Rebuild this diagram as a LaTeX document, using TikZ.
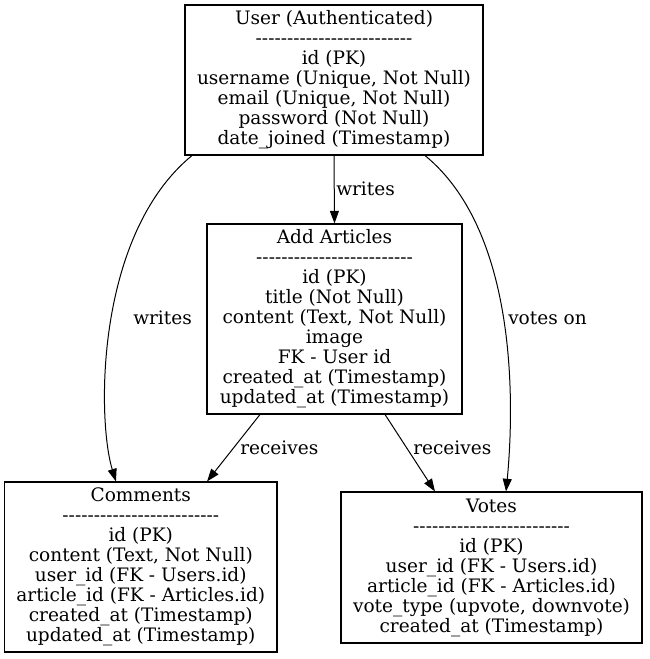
\documentclass[tikz,border=0pt]{standalone}
\usepackage{fontspec}
\usepackage{tikz}
\usetikzlibrary{arrows.meta}
\newfontfamily\dbfont{DejaVu Serif}
\newcommand{\dashline}{-------------------------}

\tikzset{
  entity/.style={draw, line width=0.8pt, inner sep=0pt, align=center,
    font=\dbfont\fontsize{13.9}{15}\selectfont},
  rel/.style={-{Triangle[length=9.5pt,width=6.75pt]}, line width=0.75pt},
  lbl/.style={anchor=west, inner sep=0pt, font=\dbfont\fontsize{13.9}{15}\selectfont}
}

\begin{document}
\begin{tikzpicture}[x=0.75pt,y=-0.75pt]
\useasboundingbox (0,0) rectangle (649,659);

\node [entity, minimum width=223.5pt, minimum height=112.5pt] (user) at (334,80)
  {User (Authenticated)\\ \dashline\\ id (PK)\\ username (Unique, Not Null)\\
   email (Unique, Not Null)\\ password (Not Null)\\ date\_joined (Timestamp)};

\node [entity, minimum width=191.25pt, minimum height=142.5pt] (art) at (334.5,319)
  {Add Articles\\ \dashline\\ id (PK)\\ title (Not Null)\\ content (Text, Not Null)\\
   image\\ FK - User id\\ created\_at (Timestamp)\\ updated\_at (Timestamp)};

\node [entity, minimum width=204.4pt, minimum height=127.5pt] (com) at (140.75,567)
  {Comments\\ \dashline\\ id (PK)\\ content (Text, Not Null)\\ user\_id (FK - Users.id)\\
   article\_id (FK - Articles.id)\\ created\_at (Timestamp)\\ updated\_at (Timestamp)};

\node [entity, minimum width=225.75pt, minimum height=113.25pt] (vote) at (491.5,567.5)
  {Votes\\ \dashline\\ id (PK)\\ user\_id (FK - Users.id)\\ article\_id (FK - Articles.id)\\
   vote\_type (upvote, downvote)\\ created\_at (Timestamp)};

% relations
\draw[rel] (user.south) -- (art.north);
\draw[rel] ([xshift=-106.5pt]user.south) .. controls (95,235) and (97,420) .. ([xshift=-18.6pt]com.north);
\draw[rel] ([xshift=68.25pt]user.south) .. controls (522,235) and (513,420) .. ([xshift=10.9pt]vote.north);
\draw[rel] ([xshift=-55.9pt]art.south) -- ([xshift=49.7pt]com.north);
\draw[rel] ([xshift=37.9pt]art.south) -- ([xshift=-42.4pt]vote.north);

\node [lbl] (l1) at (336,189) {writes};
\node [lbl] (l2) at (133,318) {writes};
\node [lbl] (l3) at (508,318) {votes on};
\node [lbl] (l4) at (240,448) {receives};
\node [lbl] (l5) at (413,448) {receives};

\end{tikzpicture}
\end{document}
